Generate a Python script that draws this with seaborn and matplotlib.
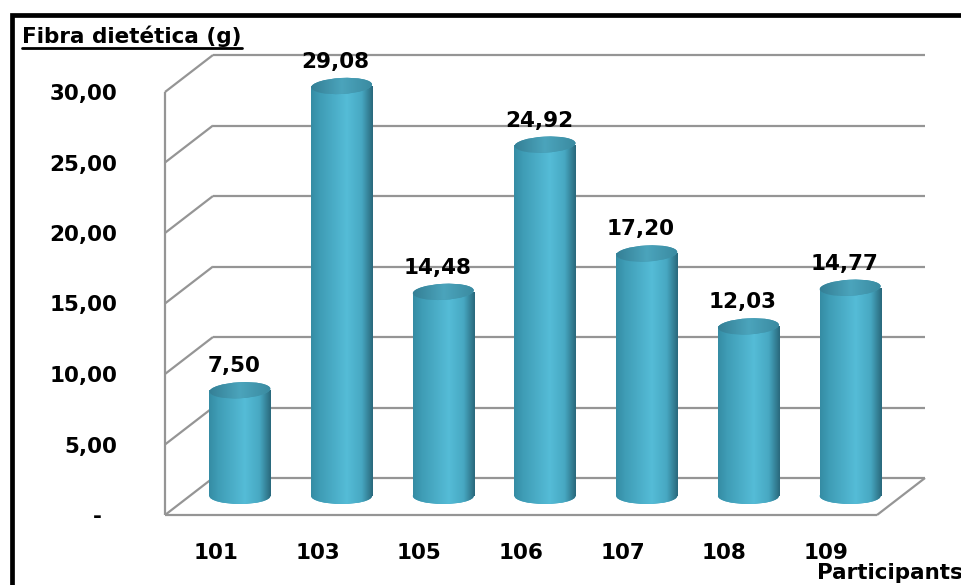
import numpy as np
import pandas as pd
import matplotlib
matplotlib.use("Agg")
import matplotlib.pyplot as plt
import seaborn as sns
from matplotlib.patches import Ellipse, Rectangle
from matplotlib.lines import Line2D
from matplotlib.transforms import ScaledTranslation, IdentityTransform
from matplotlib.colors import LinearSegmentedColormap

# ---------------- data ----------------
participants = ["101", "103", "105", "106", "107", "108", "109"]
fiber_g = [7.50, 29.08, 14.48, 24.92, 17.20, 12.03, 14.77]
y_ticks = [0, 5, 10, 15, 20, 25, 30]
y_tick_labels = ["-  ", "5,00", "10,00", "15,00", "20,00", "25,00", "30,00"]
title_text = "Fibra dietética (g)"
x_title = "Participants"

# ---------------- style ----------------
W, H, DPI = 962, 585, 100
sns.set_theme(style="white")
plt.rcParams["font.family"] = ["DejaVu Sans"]
FS = 15.5
GRID_C = "#959595"
GRID_LW = 1.6
FRONT = (-24, -19)   # pixel offset of front plane from bar plane
BACK = (24, 18)      # pixel offset of back plane from bar plane
Y_LO = -1.5          # room below zero for the cylinder bottoms
PX_PER_UNIT = 14.1

fig = plt.figure(figsize=(W / DPI, H / DPI), dpi=DPI)
fig.patch.set_facecolor("white")
ax_bottom_px = 496 - Y_LO * PX_PER_UNIT
ax_h_px = (y_ticks[-1] - Y_LO) * PX_PER_UNIT
ax = fig.add_axes([189 / W, (H - ax_bottom_px) / H, 712 / W, ax_h_px / H])

df = pd.DataFrame({"participant": participants, "fiber": fiber_g})
sns.barplot(data=df, x="participant", y="fiber", color="#49aac6", saturation=1,
            width=0.6, linewidth=0, ax=ax, zorder=3)
ax.set_xlim(-0.5, len(participants) - 0.5)
ax.set_ylim(Y_LO, y_ticks[-1])
ax.set_xlabel("")
ax.set_ylabel("")
for s in ax.spines.values():
    s.set_visible(False)
ax.grid(False)
ax.patch.set_alpha(0)


def px(x, y, off=(0, 0)):
    X, Y = ax.transData.transform((x, y))
    return X + off[0], Y + off[1]


def dline(p, q, z=1):
    ax.add_line(Line2D([p[0], q[0]], [p[1], q[1]], transform=IdentityTransform(),
                       color=GRID_C, lw=GRID_LW, clip_on=False, zorder=z,
                       solid_capstyle="butt"))


xl, xr = ax.get_xlim()
# back wall gridlines + left wall diagonals
for yv in y_ticks:
    dline(px(xl, yv, BACK), px(xr, yv, BACK))
    dline(px(xl, yv, FRONT), px(xl, yv, BACK))
# value axis line (front-left edge)
dline(px(xl, y_ticks[0], FRONT), px(xl, y_ticks[-1], FRONT))
# floor front edge and right edge
dline(px(xl, 0, FRONT), px(xr, 0, FRONT))
dline(px(xr, 0, FRONT), px(xr, 0, BACK))

# ---------------- cylinders ----------------
body_cmap = LinearSegmentedColormap.from_list(
    "cyl", [(0, "#358ca4"), (0.15, "#3f9db6"), (0.58, "#55bcd7"),
            (0.82, "#47a8c2"), (1, "#29687b")])
cap_cmap = LinearSegmentedColormap.from_list(
    "cap", [(0, "#347f95"), (0.5, "#4ba4bc"), (1, "#3a8aa0")])
grad = np.linspace(0, 1, 256).reshape(1, -1)
CAP_H = 16 / DPI
ANG_TOP = 3

for patch, v in zip(ax.patches, fiber_g):
    x0 = patch.get_x()
    w = patch.get_width()
    xc = x0 + w / 2
    wpx = px(x0 + w, 0)[0] - px(x0, 0)[0]
    ext = [x0, x0 + w, Y_LO, v]
    im = ax.imshow(grad, cmap=body_cmap, extent=ext, aspect="auto",
                   interpolation="bicubic", zorder=4)
    im.set_clip_path(patch)
    e_bot = Ellipse((0, 0), wpx / DPI, CAP_H, angle=0, fc="#49aac6", ec="none",
                    transform=fig.dpi_scale_trans + ScaledTranslation(xc, 0, ax.transData),
                    zorder=3)
    ax.add_patch(e_bot)
    im2 = ax.imshow(grad, cmap=body_cmap, extent=ext, aspect="auto",
                    interpolation="bicubic", zorder=4)
    im2.set_clip_path(e_bot)
    e_top = Ellipse((0, 0), wpx / DPI, CAP_H, angle=ANG_TOP, fc="#4098b0", ec="none",
                    transform=fig.dpi_scale_trans + ScaledTranslation(xc, v, ax.transData),
                    zorder=5)
    ax.add_patch(e_top)
    im3 = ax.imshow(grad, cmap=cap_cmap, extent=[x0, x0 + w, v - 1, v + 1], aspect="auto",
                    interpolation="bicubic", zorder=6)
    im3.set_clip_path(e_top)
    ax.annotate(f"{v:.2f}".replace(".", ","), (xc, v), xytext=(-6, 24),
                textcoords="offset pixels", ha="center", va="center",
                fontsize=FS, fontweight="bold", color="black", zorder=7,
                annotation_clip=False)

ax.set_xlim(xl, xr)
ax.set_ylim(Y_LO, y_ticks[-1])

# ---------------- ticks ----------------
ax.set_yticks(y_ticks, y_tick_labels)
ax.tick_params(axis="y", length=0, pad=51.8, labelsize=FS, labelcolor="black")
ax.tick_params(axis="x", length=0, pad=18.5, labelsize=FS, labelcolor="black")
for lbl in ax.get_yticklabels():
    lbl.set_fontweight("bold")
    lbl.set_transform(lbl.get_transform() + ScaledTranslation(0, FRONT[1] / DPI, fig.dpi_scale_trans))
for lbl in ax.get_xticklabels():
    lbl.set_fontweight("bold")
    lbl.set_transform(lbl.get_transform() + ScaledTranslation(FRONT[0] / DPI, 0, fig.dpi_scale_trans))

# ---------------- texts & frame ----------------
ttl = fig.text(22 / W, (H - 43) / H, title_text, ha="left", va="baseline",
               fontsize=FS, fontweight="bold", color="black")
fig.text(817 / W, (H - 573) / H, x_title, ha="left", va="center",
         fontsize=FS, fontweight="bold", color="black")
fig.add_artist(Rectangle((11.7 / W, -0.1), 1.2, (H - 15) / H + 0.1,
                         transform=fig.transFigure, fill=False, ec="black", lw=3.4))

fig.canvas.draw()
bb = ttl.get_window_extent()
fig.add_artist(Line2D([bb.x0, bb.x1], [bb.y0 - 1, bb.y0 - 1], transform=IdentityTransform(),
                      color="black", lw=2.0))

fig.savefig("out.png", dpi=DPI, facecolor="white")
